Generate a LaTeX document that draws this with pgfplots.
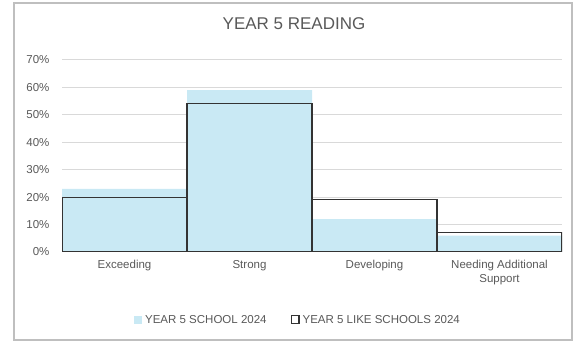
\documentclass[border=0pt]{standalone}
\usepackage{fontspec}
\setmainfont{Liberation Sans}
\usepackage{pgfplots}
\pgfplotsset{compat=1.18}
\definecolor{schoolblue}{HTML}{C9E9F4}
\definecolor{txtgray}{HTML}{595959}
\definecolor{gridgray}{HTML}{D9D9D9}
\definecolor{framegray}{HTML}{BFBFBF}
\begin{document}
\begin{tikzpicture}
\path[use as bounding box] (0pt,0pt) rectangle (578pt,344pt);
\draw[framegray, line width=1.5pt] (14pt,4pt) rectangle (572pt,341pt);
\begin{axis}[
  at={(62pt,92pt)}, anchor=south west, scale only axis,
  width=500pt, height=192pt,
  xmin=-0.5, xmax=3.5, ymin=0, ymax=70,
  ytick={0,10,...,70},
  yticklabel={\pgfmathprintnumber{\tick}\%},
  /pgf/number format/assume math mode=true,
  xtick={0,1,2,3},
  xticklabels={Exceeding,Strong,Developing,Needing Additional\\Support},
  xticklabel style={align=center, text=txtgray, font=\fontsize{11.5}{13.5}\selectfont, yshift=-5pt},
  yticklabel style={text=txtgray, font=\fontsize{11.5}{13.5}\selectfont, xshift=-9pt},
  major tick length=0pt,
  axis line style={draw=none},
  ymajorgrids, major grid style={gridgray, line width=1pt},
  title={YEAR 5 READING},
  title style={at={(0.464,1.159)}, anchor=center, text=txtgray, font=\fontsize{17}{20}\selectfont},
  legend style={at={(0.472,-0.354)}, anchor=center, legend columns=2, draw=none,
    font=\fontsize{11.5}{13.5}\selectfont, text=txtgray,
    /tikz/every odd column/.append style={column sep=1pt},
    /tikz/every even column/.append style={column sep=22pt}},
]
\addplot[ybar, bar width=1, bar shift=0pt, fill=schoolblue, draw=none,
  legend image code/.code={\fill[schoolblue] (0pt,-4pt) rectangle (8pt,4pt);}]
  coordinates {(0,23)(1,59)(2,12)(3,6)};
\addlegendentry{YEAR 5 SCHOOL 2024}
\addplot[ybar, bar width=1, bar shift=0pt, fill=none, draw=black!80, line width=1.2pt,
  legend image code/.code={\draw[black!80, line width=1.2pt] (0.6pt,-3.4pt) rectangle (8.4pt,4.4pt);}]
  coordinates {(0,20)(1,54)(2,19)(3,7)};
\addlegendentry{YEAR 5 LIKE SCHOOLS 2024}
\end{axis}
\end{tikzpicture}
\end{document}
